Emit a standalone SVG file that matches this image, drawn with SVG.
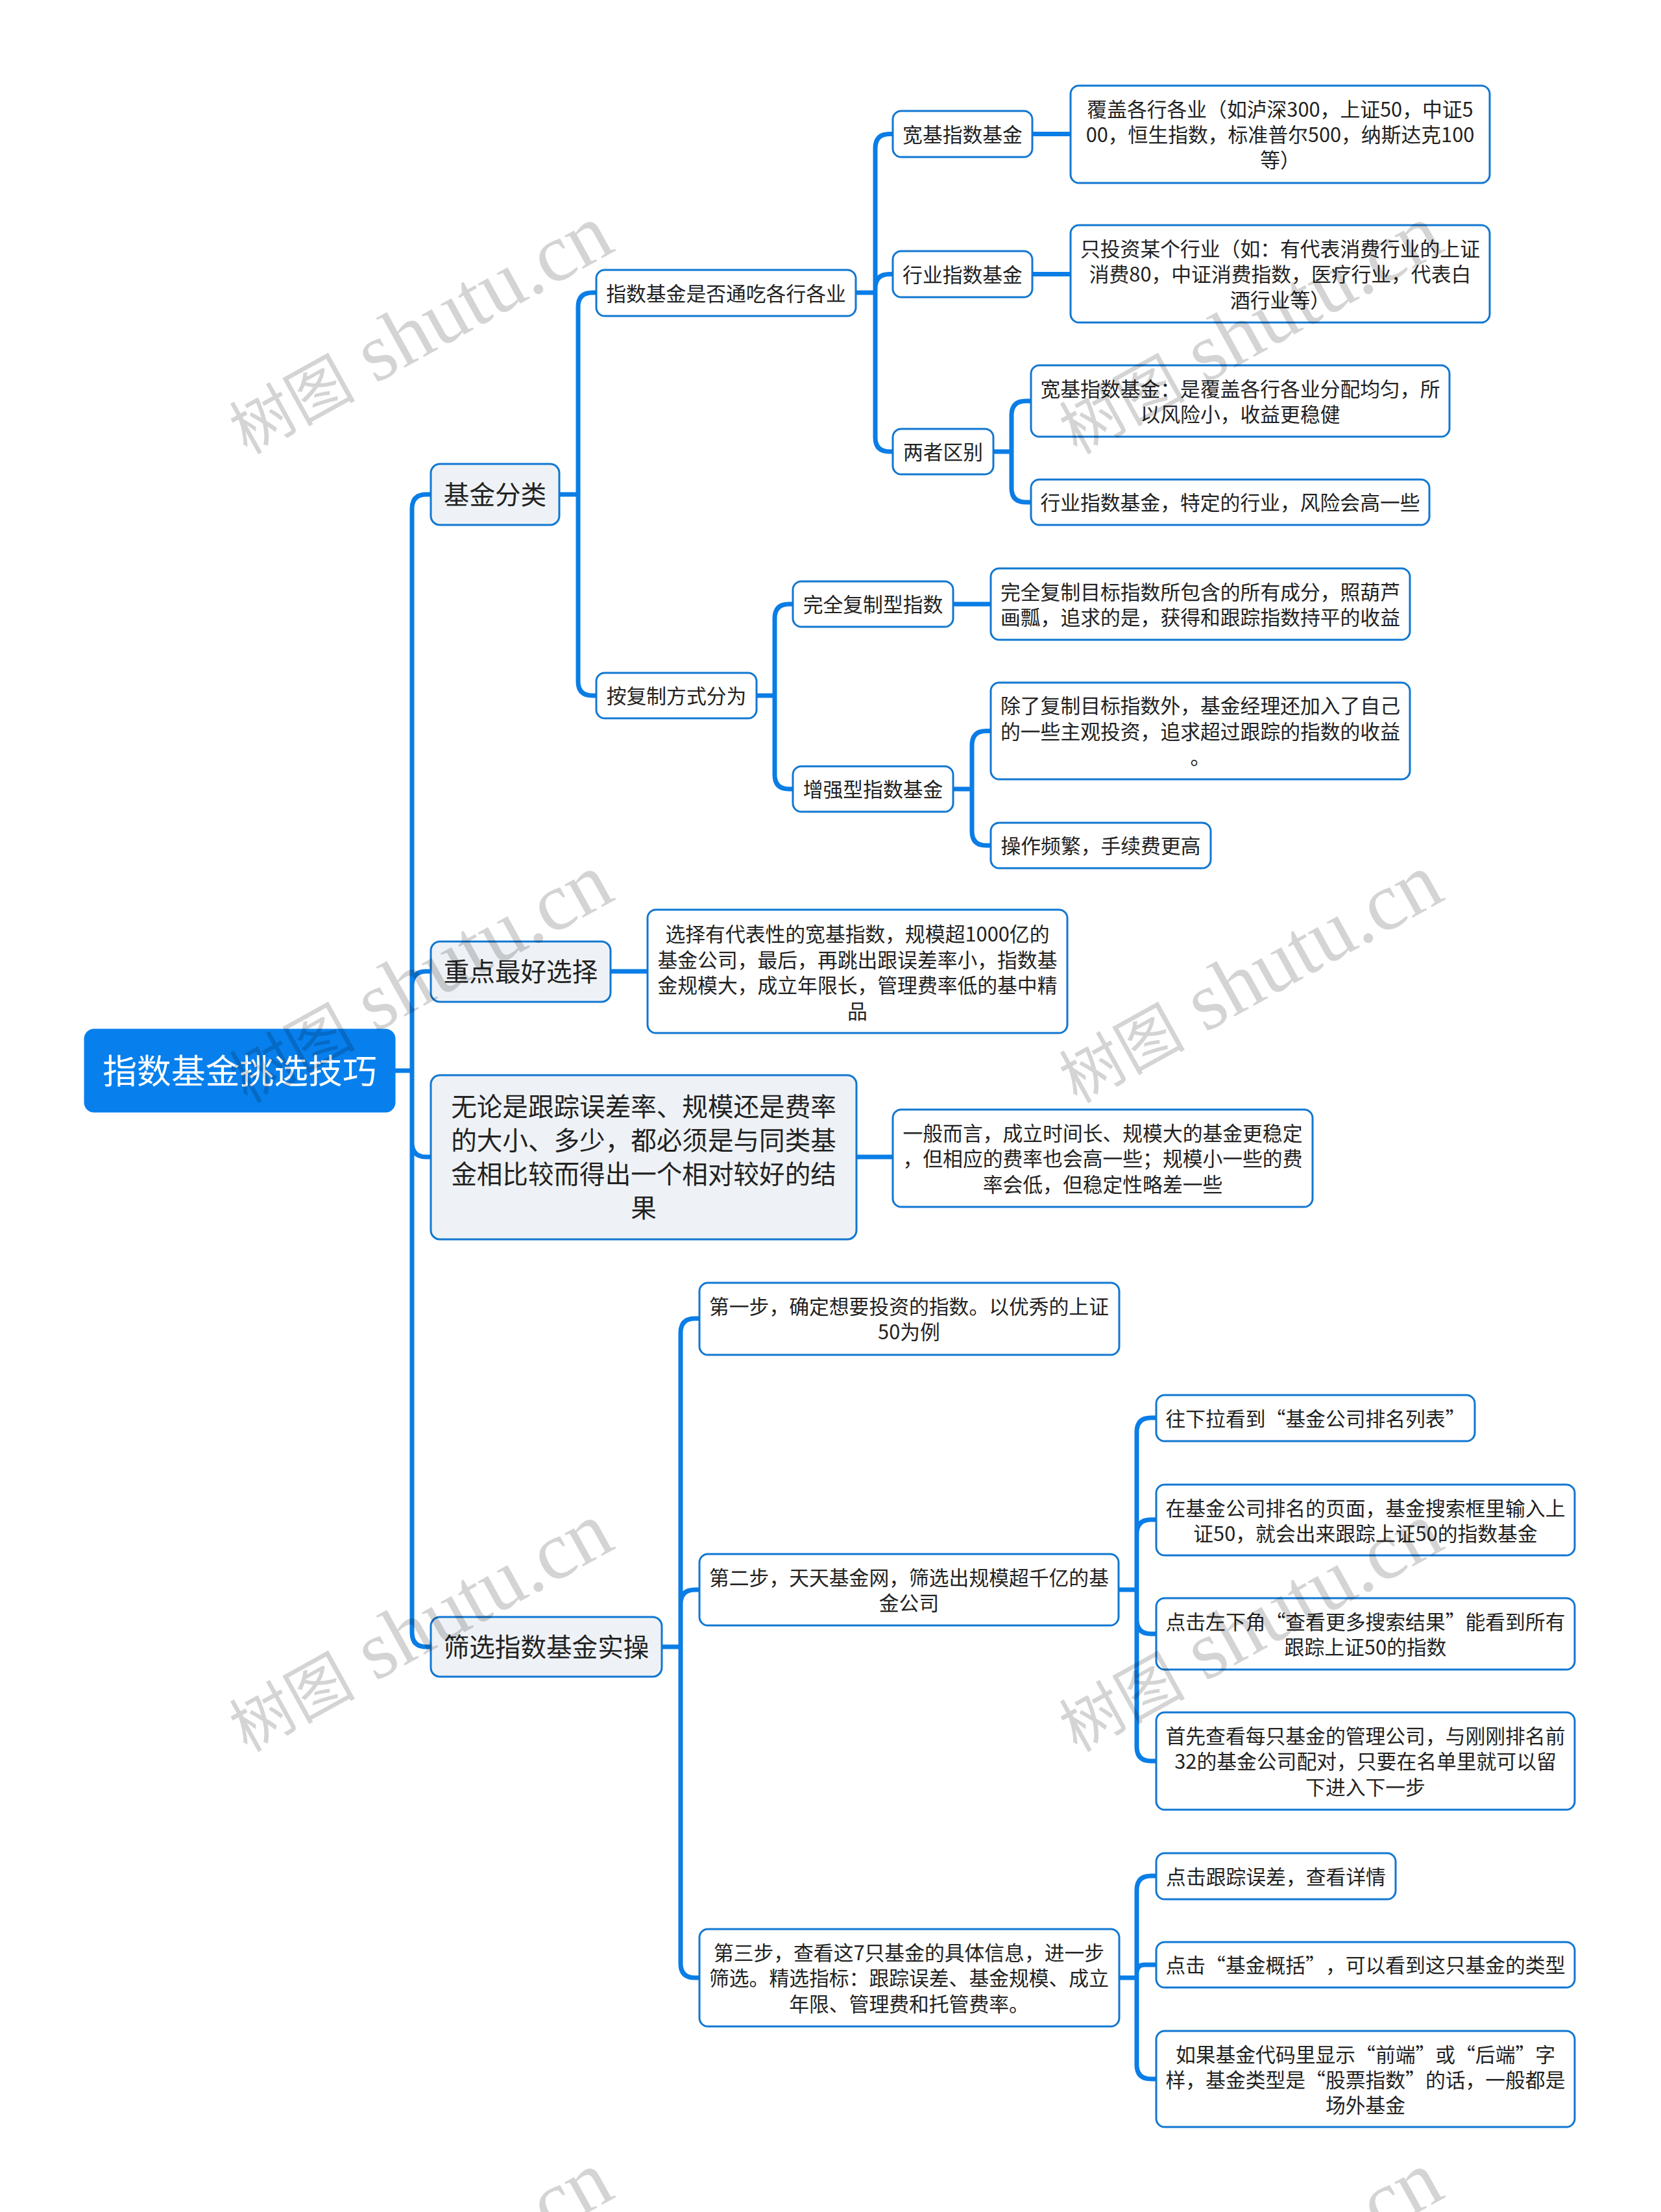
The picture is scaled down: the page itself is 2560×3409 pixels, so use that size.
<svg xmlns="http://www.w3.org/2000/svg" width="2560" height="3409" viewBox="0 0 2560 3409">
<style>
text{font-family:"Noto Sans CJK SC","Noto Sans",sans-serif;text-anchor:middle;fill:#222;text-spacing-trim:space-all}
.n rect{fill:#fff;stroke:#1177d1;stroke-width:3}
.n text{font-size:30.800px;transform:translateY(.8px)}
.l2 rect{fill:#eef2f6}
.l2 text{font-size:39.600px;transform:none}
.root rect{fill:#0780ee;stroke:#0780ee}
.root text{font-size:52.800px;fill:#fff;transform:none}
#connectors path{fill:none;stroke:#0a7de6;stroke-width:7}
.wm text{font-family:"Liberation Serif","Noto Sans CJK SC",serif;font-size:127px;fill:#000;fill-opacity:.17}
.wm tspan{font-size:97px}
</style>
<rect width="2560" height="3409" fill="#fff"/>
<g id="connectors">
<path d="M608 1650H635V784Q635 762 657 762H664M635 1650V1519Q635 1497 657 1497H664M635 1650V1761Q635 1783 657 1783H664M635 1650V2516Q635 2538 657 2538H664"/>
<path d="M862 762H891V473Q891 451 913 451H919M891 762V1050Q891 1072 913 1072H919"/>
<path d="M1319 451H1349V228.500Q1349 206.500 1371 206.500H1376M1349 451V444.500Q1349 422.500 1371 422.500H1376M1349 451V674Q1349 696 1371 696H1376"/>
<path d="M1531 696H1559V640Q1559 618 1581 618H1589M1559 696V752Q1559 774 1581 774H1589"/>
<path d="M1591 206.500H1650M1591 422.500H1650"/>
<path d="M1166 1072H1194V953Q1194 931 1216 931H1222M1194 1072V1194Q1194 1216 1216 1216H1222"/>
<path d="M1469 931H1527"/>
<path d="M1469 1216H1498V1148.500Q1498 1126.500 1520 1126.500H1527M1498 1216V1281Q1498 1303 1520 1303H1527"/>
<path d="M941 1497H998M1320 1783H1376"/>
<path d="M1020 2538H1049V2054Q1049 2032 1071 2032H1078M1049 2538V2472Q1049 2450 1071 2450H1078M1049 2538V3026Q1049 3048 1071 3048H1078"/>
<path d="M1724 2450H1752V2207Q1752 2185 1774 2185H1782M1752 2450V2364Q1752 2342 1774 2342H1782M1752 2450V2496Q1752 2518 1774 2518H1782M1752 2450V2692Q1752 2714 1774 2714H1782"/>
<path d="M1725 3048H1752V2913Q1752 2891 1774 2891H1782M1752 3048V3040Q1752 3028 1764 3028H1782M1752 3048V3182Q1752 3204 1774 3204H1782"/>
</g>
<g id="n-root" class="n root"><rect x="131" y="1587" width="477" height="126" rx="14"/><text x="369.500" y="1670">指数基金挑选技巧</text></g>
<g id="n-jijinfenlei" class="n l2"><rect x="664" y="715" width="198" height="94" rx="14"/><text x="763" y="777">基金分类</text></g>
<g id="n-zhongdian" class="n l2"><rect x="664" y="1451" width="277" height="93" rx="14"/><text x="802.500" y="1512">重点最好选择</text></g>
<g id="n-wulun" class="n l2"><rect x="664" y="1657" width="656" height="253" rx="14"/><text x="992" y="1720">无论是跟踪误差率、规模还是费率</text><text x="992" y="1772">的大小、多少，都必须是与同类基</text><text x="992" y="1824">金相比较而得出一个相对较好的结</text><text x="992" y="1876">果</text></g>
<g id="n-shaixuan" class="n l2"><rect x="664" y="2492" width="356" height="92" rx="14"/><text x="842" y="2553">筛选指数基金实操</text></g>
<g id="n-tongchi" class="n"><rect x="919" y="416" width="400" height="71" rx="13"/><text x="1119" y="463">指数基金是否通吃各行各业</text></g>
<g id="n-fuzhi" class="n"><rect x="919" y="1037" width="247" height="70" rx="13"/><text x="1042.500" y="1083.500">按复制方式分为</text></g>
<g id="n-kuanji" class="n"><rect x="1376" y="171" width="215" height="71" rx="13"/><text x="1483.500" y="218">宽基指数基金</text></g>
<g id="n-hangye" class="n"><rect x="1376" y="387" width="215" height="71" rx="13"/><text x="1483.500" y="434">行业指数基金</text></g>
<g id="n-liangzhe" class="n"><rect x="1376" y="661" width="155" height="70" rx="13"/><text x="1453.500" y="707.500">两者区别</text></g>
<g id="n-fugai" class="n"><rect x="1650" y="132" width="646" height="150" rx="13"/><text x="1973" y="179">覆盖各行各业（如泸深300，上证50，中证5</text><text x="1973" y="218">00，恒生指数，标准普尔500，纳斯达克100</text><text x="1973" y="257">等）</text></g>
<g id="n-zhitou" class="n"><rect x="1650" y="347" width="646" height="150" rx="13"/><text x="1973" y="394">只投资某个行业（如：有代表消费行业的上证</text><text x="1973" y="433.500">消费80，中证消费指数，医疗行业，代表白</text><text x="1973" y="473">酒行业等）</text></g>
<g id="n-qubie1" class="n"><rect x="1589" y="563" width="645" height="110" rx="13"/><text x="1911.500" y="610">宽基指数基金：是覆盖各行各业分配均匀，所</text><text x="1911.500" y="649">以风险小，收益更稳健</text></g>
<g id="n-qubie2" class="n"><rect x="1589" y="739" width="614" height="70" rx="13"/><text x="1896" y="785.500">行业指数基金，特定的行业，风险会高一些</text></g>
<g id="n-wanquan" class="n"><rect x="1222" y="896" width="247" height="70" rx="13"/><text x="1345.500" y="942.500">完全复制型指数</text></g>
<g id="n-zengqiang" class="n"><rect x="1222" y="1181" width="247" height="70" rx="13"/><text x="1345.500" y="1227.500">增强型指数基金</text></g>
<g id="n-wanquan1" class="n"><rect x="1527" y="876" width="646" height="110" rx="13"/><text x="1850" y="923">完全复制目标指数所包含的所有成分，照葫芦</text><text x="1850" y="962">画瓢，追求的是，获得和跟踪指数持平的收益</text></g>
<g id="n-zengqiang1" class="n"><rect x="1527" y="1052" width="646" height="149" rx="13"/><text x="1850" y="1098">除了复制目标指数外，基金经理还加入了自己</text><text x="1850" y="1138">的一些主观投资，追求超过跟踪的指数的收益</text><text x="1850" y="1177">。</text></g>
<g id="n-zengqiang2" class="n"><rect x="1527" y="1268" width="339" height="70" rx="13"/><text x="1696.500" y="1314.500">操作频繁，手续费更高</text></g>
<g id="n-xuanze" class="n"><rect x="998" y="1402" width="647" height="190" rx="13"/><text x="1321.500" y="1450">选择有代表性的宽基指数，规模超1000亿的</text><text x="1321.500" y="1490">基金公司，最后，再跳出跟误差率小，指数基</text><text x="1321.500" y="1529">金规模大，成立年限长，管理费率低的基中精</text><text x="1321.500" y="1569">品</text></g>
<g id="n-yiban" class="n"><rect x="1376" y="1710" width="647" height="150" rx="13"/><text x="1699.500" y="1757">一般而言，成立时间长、规模大的基金更稳定</text><text x="1699.500" y="1796.500">，但相应的费率也会高一些；规模小一些的费</text><text x="1699.500" y="1836">率会低，但稳定性略差一些</text></g>
<g id="n-step1" class="n"><rect x="1078" y="1977" width="647" height="111" rx="13"/><text x="1401" y="2024">第一步，确定想要投资的指数。以优秀的上证</text><text x="1401" y="2063">50为例</text></g>
<g id="n-step2" class="n"><rect x="1078" y="2395" width="646" height="110" rx="13"/><text x="1401" y="2442">第二步，天天基金网，筛选出规模超千亿的基</text><text x="1401" y="2481">金公司</text></g>
<g id="n-step3" class="n"><rect x="1078" y="2973" width="647" height="150" rx="13"/><text x="1401" y="3020">第三步，查看这7只基金的具体信息，进一步</text><text x="1401" y="3059.500">筛选。精选指标：跟踪误差、基金规模、成立</text><text x="1401" y="3099">年限、管理费和托管费率。</text></g>
<g id="n-a1" class="n"><rect x="1782" y="2150" width="491" height="71" rx="13"/><text x="2027.500" y="2197">往下拉看到“基金公司排名列表”</text></g>
<g id="n-a2" class="n"><rect x="1782" y="2288" width="645" height="109" rx="13"/><text x="2104.500" y="2335">在基金公司排名的页面，基金搜索框里输入上</text><text x="2104.500" y="2374">证50，就会出来跟踪上证50的指数基金</text></g>
<g id="n-a3" class="n"><rect x="1782" y="2463" width="645" height="110" rx="13"/><text x="2104.500" y="2510">点击左下角“查看更多搜索结果”能看到所有</text><text x="2104.500" y="2549">跟踪上证50的指数</text></g>
<g id="n-a4" class="n"><rect x="1782" y="2639" width="645" height="150" rx="13"/><text x="2104.500" y="2686">首先查看每只基金的管理公司，与刚刚排名前</text><text x="2104.500" y="2725.500">32的基金公司配对，只要在名单里就可以留</text><text x="2104.500" y="2765">下进入下一步</text></g>
<g id="n-b1" class="n"><rect x="1782" y="2856" width="369" height="71" rx="13"/><text x="1966.500" y="2903">点击跟踪误差，查看详情</text></g>
<g id="n-b2" class="n"><rect x="1782" y="2993" width="645" height="70" rx="13"/><text x="2104.500" y="3039.500">点击“基金概括”，可以看到这只基金的类型</text></g>
<g id="n-b3" class="n"><rect x="1782" y="3130" width="645" height="148" rx="13"/><text x="2104.500" y="3177">如果基金代码里显示“前端”或“后端”字</text><text x="2104.500" y="3216">样，基金类型是“股票指数”的话，一般都是</text><text x="2104.500" y="3255">场外基金</text></g>
<g class="wm">
<text transform="translate(649 512.500) rotate(-29)" y="35"><tspan>树图</tspan> shutu.cn</text>
<text transform="translate(1928 512.500) rotate(-29)" y="35"><tspan>树图</tspan> shutu.cn</text>
<text transform="translate(649 1512.500) rotate(-29)" y="35"><tspan>树图</tspan> shutu.cn</text>
<text transform="translate(1928 1512.500) rotate(-29)" y="35"><tspan>树图</tspan> shutu.cn</text>
<text transform="translate(649 2512.500) rotate(-29)" y="35"><tspan>树图</tspan> shutu.cn</text>
<text transform="translate(1928 2512.500) rotate(-29)" y="35"><tspan>树图</tspan> shutu.cn</text>
<text transform="translate(649 3512.500) rotate(-29)" y="35"><tspan>树图</tspan> shutu.cn</text>
<text transform="translate(1928 3512.500) rotate(-29)" y="35"><tspan>树图</tspan> shutu.cn</text>
</g>
</svg>
